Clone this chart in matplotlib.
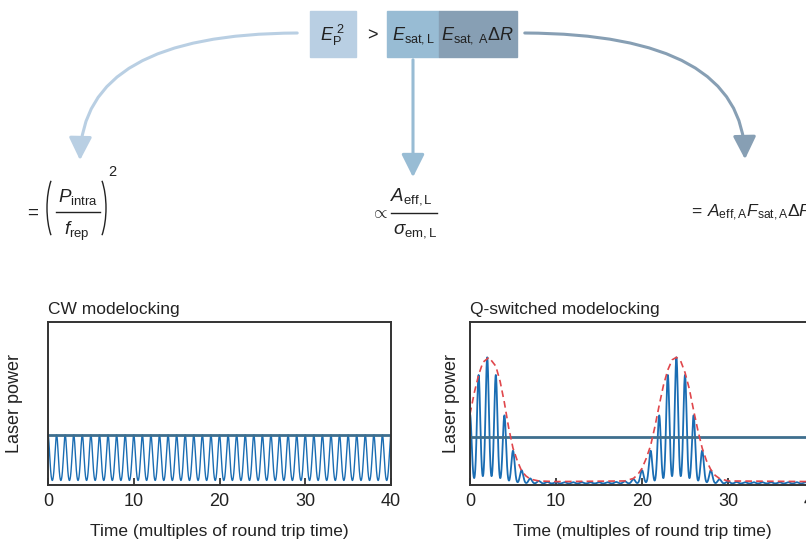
import numpy as np
import matplotlib
matplotlib.use("Agg")
import matplotlib.pyplot as plt
from matplotlib.patches import Rectangle, FancyArrowPatch, Arc
from matplotlib.lines import Line2D

plt.rcParams['font.family'] = ['Liberation Sans', 'DejaVu Sans']
plt.rcParams['mathtext.fontset'] = 'custom'
plt.rcParams['mathtext.rm'] = 'Liberation Sans'
plt.rcParams['mathtext.it'] = 'Liberation Sans:italic'
plt.rcParams['mathtext.bf'] = 'Liberation Sans:bold'

# --- Datos -----------------------------------------------------------------------------
t_pulses = np.arange(0, 41)                 # un pulso por tiempo de ida y vuelta
cw_peaks = [0.385] * 41                     # CW: todos los pulsos iguales
cw_level = 0.385
q_peaks = [0.55, 0.86, 1.00, 0.86, 0.54, 0.26, 0.105, 0.04, 0.02, 0.012,
           0.01, 0.01, 0.01, 0.01, 0.01, 0.01, 0.01, 0.012, 0.018, 0.035,
           0.105, 0.26, 0.54, 0.86, 1.00, 0.86, 0.54, 0.26, 0.105, 0.035,
           0.018, 0.012, 0.01, 0.01, 0.01, 0.01, 0.01, 0.01, 0.01, 0.01, 0.01]
q_level = 0.37
env_t = [0, 0.5, 1, 1.5, 2.2, 3, 3.5, 4, 4.5, 5, 5.5, 6, 6.5, 7, 8, 10,
         18, 19, 19.5, 20, 20.5, 21, 21.5, 22, 22.5, 23, 23.5, 24, 24.5, 25,
         25.5, 26, 26.5, 27, 27.5, 28, 28.5, 29, 30, 40]
env_v = [0.55, 0.72, 0.86, 0.96, 1.0, 0.93, 0.81, 0.64, 0.44, 0.28, 0.18, 0.10, 0.06, 0.035, 0.02, 0.015,
         0.02, 0.04, 0.07, 0.12, 0.2, 0.3, 0.45, 0.62, 0.78, 0.9, 0.98, 1.0, 0.97, 0.88,
         0.75, 0.58, 0.42, 0.28, 0.18, 0.11, 0.065, 0.04, 0.02, 0.015]
x_ticks = [0, 10, 20, 30, 40]

# --- Estilos ---------------------------------------------------------------------------
W, H = 806, 542
c_pulse = '#1a6db3'
c_level = '#3f6f8e'
c_env = '#e0474c'
c_box1 = '#b9cfe3'
c_box2 = '#98bcd4'
c_box3 = '#879fb4'
c_text = '#222222'
sigma = 0.19

def px(x, y):
    # pixeles (origen arriba a la izquierda) -> fracción de figura
    return (x / W, 1 - y / H)

def pulse_train(t, peaks):
    y = np.zeros_like(t)
    for tp, a in zip(t_pulses, peaks):
        y += a * np.exp(-(t - tp) ** 2 / (2 * sigma ** 2))
    return y

fig = plt.figure(figsize=(W / 100, H / 100), dpi=100)

# --- Gráficos --------------------------------------------------------------------------
t = np.linspace(0, 40, 6000)
ax1 = fig.add_axes([48 / W, 57 / H, (391 - 48) / W, (485 - 322) / H])
ax2 = fig.add_axes([470 / W, 57 / H, (814 - 470) / W, (485 - 322) / H])

ax1.plot(t, pulse_train(t, cw_peaks), color=c_pulse, lw=1.0)
ax1.axhline(cw_level, color=c_level, lw=2)
ax2.plot(t, pulse_train(t, q_peaks), color=c_pulse, lw=1.3)
ax2.axhline(q_level, color=c_level, lw=2)
ax2.plot(env_t, env_v, color=c_env, lw=1.2, ls=(0, (4, 2.5)))

for ax, title, lx in [(ax1, 'CW modelocking', -0.073), (ax2, 'Q-switched modelocking', -0.029)]:
    ax.set_xlim(0, 40)
    ax.set_ylim(-0.012, 1.28)
    ax.set_xticks(x_ticks)
    ax.set_yticks([])
    ax.tick_params(axis='x', direction='in', length=5, width=1.2, labelsize=13,
                   pad=6, colors=c_text)
    for s in ax.spines.values():
        s.set_linewidth(1.4)
        s.set_color('#333333')
    ax.set_title(title, loc='left', fontsize=12.5, pad=6, color=c_text)
    ax.set_xlabel('Time (multiples of round trip time)', fontsize=12.5, labelpad=10,
                  color=c_text)
    ax.set_ylabel('Laser power', fontsize=13, color=c_text)
    ax.yaxis.set_label_coords(lx, 0.5)

# --- Diagrama superior -----------------------------------------------------------------
def box(x0, y0, x1, y1, color):
    fig.patches.append(Rectangle(px(x0, y1), (x1 - x0) / W, (y1 - y0) / H,
                                 transform=fig.transFigure, color=color, zorder=1))

box(310, 11, 356, 57, c_box1)
box(387, 11, 439, 57, c_box2)
box(439, 11, 517, 57, c_box3)

fs = 13
fig.text(*px(333, 35), r'$E_{\mathrm{P}}^{\ 2}$', fontsize=fs, ha='center', va='center', color=c_text)
fig.text(*px(372, 36), '>', fontsize=fs, ha='center', va='center', color=c_text)
fig.text(*px(413, 36), r'$E_{\mathrm{sat,L}}$', fontsize=fs, ha='center', va='center', color=c_text)
fig.text(*px(478, 36), r'$E_{\mathrm{sat,\ A}}\Delta R$', fontsize=fs, ha='center', va='center', color=c_text)

# flechas
def arrow(p0, p1, color, style):
    a = FancyArrowPatch(px(*p0), px(*p1), transform=fig.transFigure,
                        connectionstyle=style, arrowstyle='-|>,head_length=7,head_width=3.5',
                        color=color, lw=2.2, mutation_scale=2, zorder=0)
    fig.patches.append(a)

arrow((300, 33), (80, 163), c_box1, 'angle3,angleA=180,angleB=90')
arrow((413, 57), (413, 180), c_box2, 'arc3')
arrow((522, 33), (745, 162), c_box3, 'angle3,angleA=0,angleB=90')

# fórmulas
fs2 = 13.5

def hline(x0, x1, y):
    fig.lines.append(Line2D([x0 / W, x1 / W], [1 - y / H, 1 - y / H], transform=fig.transFigure,
                            color=c_text, lw=1.0))

def paren(xc, yc, w, h, t1, t2):
    fig.patches.append(Arc((xc / 100, (H - yc) / 100), w / 100, h / 100, theta1=t1, theta2=t2,
                           transform=fig.dpi_scale_trans, color=c_text, lw=1.0))

# (P_intra / f_rep)^2
fig.text(*px(33, 213), '=', fontsize=fs2, ha='center', va='center', color=c_text)
paren(62, 208, 30, 80, 112, 248)
paren(91, 208, 30, 80, -68, 68)
fig.text(*px(78, 197), r'$P_{\mathrm{intra}}$', fontsize=fs2, ha='center', va='center', color=c_text)
hline(56, 100, 212)
fig.text(*px(77, 231), r'$f_{\mathrm{rep}}$', fontsize=fs2, ha='center', va='center', color=c_text)
fig.text(*px(112, 172), '2', fontsize=10.5, ha='center', va='center', color=c_text)

# A_eff,L / sigma_em,L
fig.text(*px(380, 213), r'$\propto$', fontsize=12.5, ha='center', va='center', color=c_text)
fig.text(*px(411, 197), r'$A_{\mathrm{eff,L}}$', fontsize=fs2, ha='center', va='center', color=c_text)
hline(391, 437, 213)
fig.text(*px(415, 231), r'$\sigma_{\mathrm{em,L}}$', fontsize=fs2, ha='center', va='center', color=c_text)

# A_eff,A F_sat,A dR
fig.text(*px(689, 213), r'$=\,A_{\mathrm{eff,A}}F_{\mathrm{sat,A}}\Delta R$',
         fontsize=12.5, ha='left', va='center', color=c_text)

fig.savefig('out.png', dpi=100)
